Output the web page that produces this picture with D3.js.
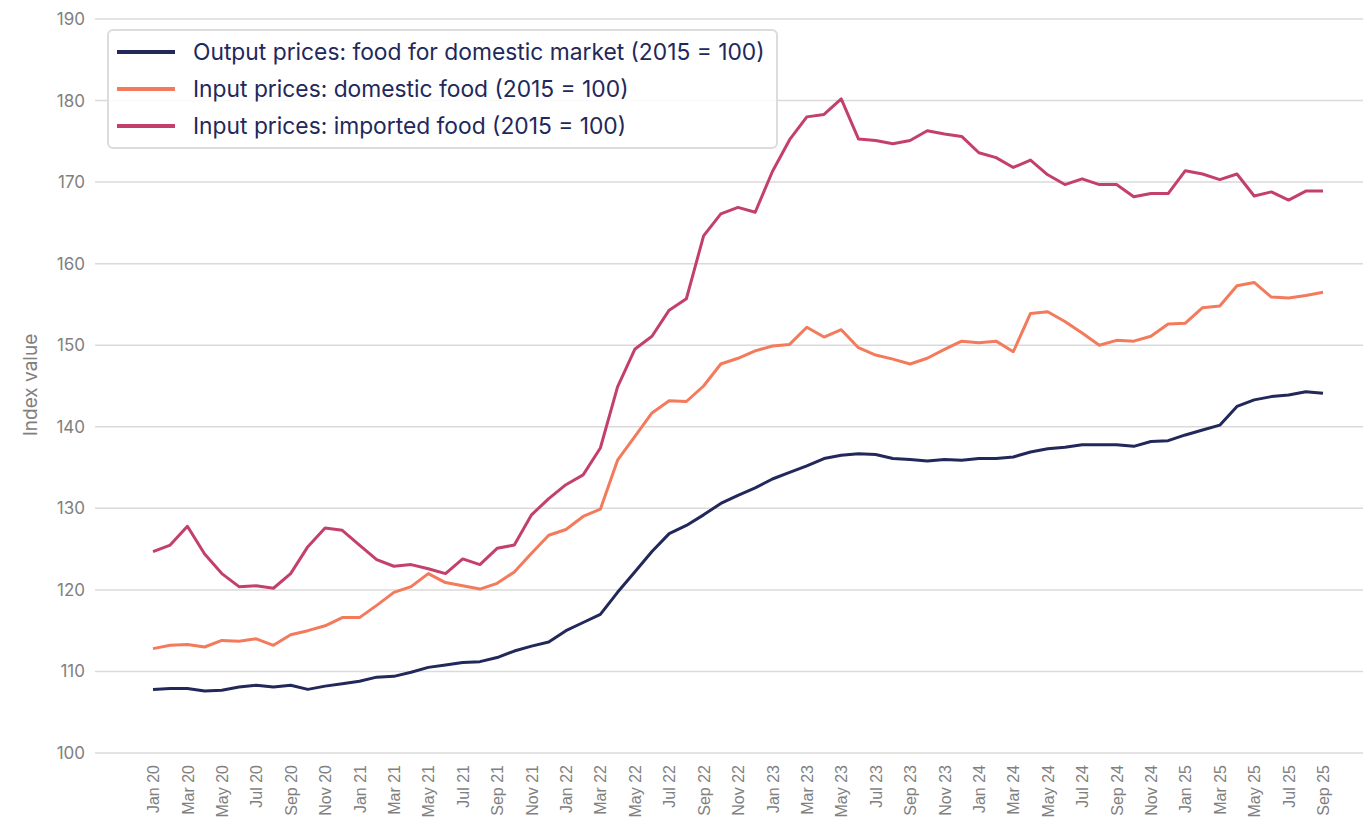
<!DOCTYPE html>
<html>
<head>
<meta charset="utf-8">
<script src="https://cdn.jsdelivr.net/npm/d3@7"></script>
<style>
  body { margin: 0; background: #fff; }
  svg { display: block; }
</style>
</head>
<body>
<svg id="chart" width="1363" height="824"></svg>
<script>
// monthly categories Jan 2020 .. Sep 2025
const months = d3.timeMonths(new Date(2020, 0, 1), new Date(2025, 9, 1));
const yTicks = [100, 110, 120, 130, 140, 150, 160, 170, 180, 190];

const outputFood = [
  107.8, 107.9, 107.9, 107.6, 107.7, 108.1, 108.3, 108.1, 108.3, 107.8, 108.2, 108.5,
  108.8, 109.3, 109.4, 109.9, 110.5, 110.8, 111.1, 111.2, 111.7, 112.5, 113.1, 113.6,
  115.0, 116.0, 117.0, 119.7, 122.2, 124.7, 126.9, 127.9, 129.2, 130.6, 131.6, 132.5,
  133.6, 134.4, 135.2, 136.1, 136.5, 136.7, 136.6, 136.1, 136.0, 135.8, 136.0, 135.9,
  136.1, 136.1, 136.3, 136.9, 137.3, 137.5, 137.8, 137.8, 137.8, 137.6, 138.2, 138.3,
  139.0, 139.6, 140.2, 142.5, 143.3, 143.7, 143.9, 144.3, 144.1
];
const inputDomestic = [
  112.8, 113.2, 113.3, 113.0, 113.8, 113.7, 114.0, 113.2, 114.5, 115.0, 115.6, 116.6,
  116.6, 118.1, 119.7, 120.4, 122.0, 120.9, 120.5, 120.1, 120.8, 122.2, 124.5, 126.7,
  127.4, 129.0, 129.9, 135.9, 138.8, 141.7, 143.2, 143.1, 145.0, 147.7, 148.4, 149.3,
  149.9, 150.1, 152.2, 151.0, 151.9, 149.7, 148.8, 148.3, 147.7, 148.4, 149.5, 150.5,
  150.3, 150.5, 149.2, 153.9, 154.1, 152.9, 151.5, 150.0, 150.6, 150.5, 151.1, 152.6,
  152.7, 154.6, 154.8, 157.3, 157.7, 155.9, 155.8, 156.1, 156.5
];
const inputImported = [
  124.7, 125.5, 127.8, 124.4, 122.0, 120.4, 120.5, 120.2, 122.0, 125.3, 127.6, 127.3,
  125.5, 123.7, 122.9, 123.1, 122.6, 122.0, 123.8, 123.1, 125.1, 125.5, 129.2, 131.2,
  132.9, 134.1, 137.4, 144.9, 149.5, 151.1, 154.3, 155.7, 163.4, 166.1, 166.9, 166.3,
  171.3, 175.2, 178.0, 178.3, 180.2, 175.3, 175.1, 174.7, 175.1, 176.3, 175.9, 175.6,
  173.6, 173.0, 171.8, 172.7, 170.9, 169.7, 170.4, 169.7, 169.7, 168.2, 168.6, 168.6,
  171.4, 171.0, 170.3, 171.0, 168.3, 168.8, 167.8, 168.9, 168.9
];

const seriesNames = [
  'Output prices: food for domestic market (2015 = 100)',
  'Input prices: domestic food (2015 = 100)',
  'Input prices: imported food (2015 = 100)'
];
const seriesColors = ['#22285a', '#f47a5c', '#c3406c'];
const seriesValues = [outputFood, inputDomestic, inputImported];

const svg = d3.select('#chart');
const fmt = d3.timeFormat('%b %y');

const x = d3.scalePoint()
  .domain(months.map(d => +d))
  .range([153, 1323]);

const y = d3.scaleLinear()
  .domain([100, 190])
  .range([753, 19]);

// gridlines + y labels
const yAxis = d3.axisLeft(y)
  .tickValues(yTicks)
  .tickSize(0)
  .tickPadding(10);

svg.append('g')
  .attr('class', 'grid')
  .selectAll('line')
  .data(yTicks)
  .join('line')
  .attr('x1', 95)
  .attr('x2', 1363)
  .attr('y1', d => y(d))
  .attr('y2', d => y(d))
  .attr('stroke', '#dadada')
  .attr('stroke-width', 1.5);

svg.append('g')
  .attr('transform', 'translate(95,0)')
  .call(yAxis)
  .call(g => g.select('.domain').remove())
  .selectAll('text')
  .attr('font-family', 'Inter, "Liberation Sans", sans-serif')
  .attr('font-size', 17)
  .attr('fill', '#808080');

// x labels, every second month
const xAxis = d3.axisBottom(x)
  .tickValues(x.domain().filter((d, i) => i % 2 === 0))
  .tickFormat(d => fmt(new Date(d)))
  .tickSize(0)
  .tickPadding(0);

svg.append('g')
  .attr('transform', 'translate(0,765)')
  .call(xAxis)
  .call(g => g.select('.domain').remove())
  .selectAll('text')
  .attr('font-family', '"Liberation Sans", Arial, sans-serif')
  .attr('font-size', 16)
  .attr('fill', '#808080')
  .attr('text-anchor', 'end')
  .attr('dy', '0.35em')
  .attr('transform', 'rotate(-90)')
  .attr('x', 0)
  .attr('y', 0);

// y title
svg.append('text')
  .attr('transform', 'translate(37,385) rotate(-90)')
  .attr('text-anchor', 'middle')
  .attr('font-family', 'Inter, "Liberation Sans", sans-serif')
  .attr('font-size', 19)
  .attr('fill', '#808080')
  .text('Index value');

// lines
const line = d3.line()
  .x((d, i) => x(+months[i]))
  .y(d => y(d));

svg.append('g')
  .selectAll('path')
  .data(seriesValues)
  .join('path')
  .attr('d', line)
  .attr('fill', 'none')
  .attr('stroke', (d, i) => seriesColors[i])
  .attr('stroke-width', 3)
  .attr('stroke-linejoin', 'round');

// legend
const legend = svg.append('g');
legend.append('rect')
  .attr('x', 108)
  .attr('y', 30)
  .attr('width', 669)
  .attr('height', 118)
  .attr('rx', 5)
  .attr('fill', 'rgba(255,255,255,0.85)')
  .attr('stroke', '#dcdcdc')
  .attr('stroke-width', 2);

const item = legend.selectAll('g.item')
  .data(seriesNames)
  .join('g')
  .attr('class', 'item')
  .attr('transform', (d, i) => `translate(0,${52 + i * 37})`);

item.append('line')
  .attr('x1', 117)
  .attr('x2', 175)
  .attr('stroke', (d, i) => seriesColors[i])
  .attr('stroke-width', 4);

item.append('text')
  .attr('x', 193)
  .attr('dy', '0.35em')
  .attr('font-family', 'Inter, "Noto Sans", sans-serif')
  .attr('font-size', 22.8)
  .attr('fill', '#22285a')
  .text(d => d);
</script>
</body>
</html>
